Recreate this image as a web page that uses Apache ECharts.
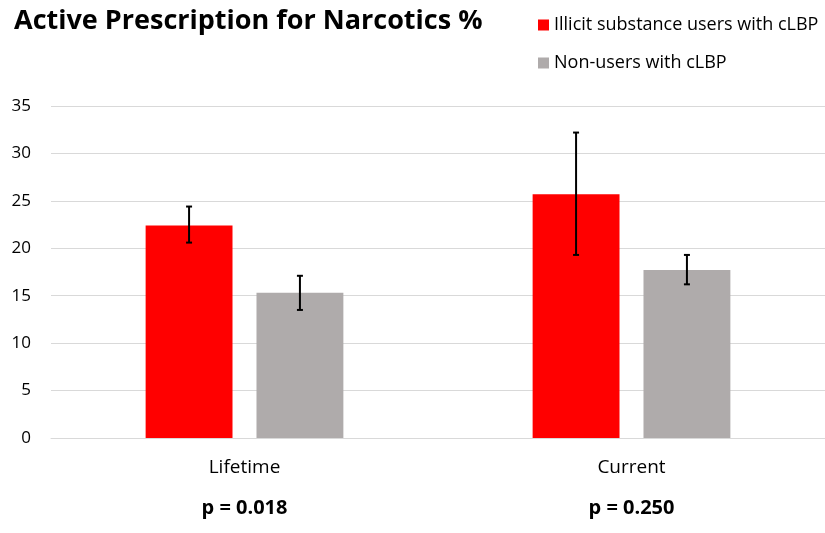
<!DOCTYPE html>
<html><head><meta charset="utf-8">
<script src="https://cdn.jsdelivr.net/npm/echarts@6/dist/echarts.min.js"></script>
<style>html,body{margin:0;padding:0;background:#fff}#c{width:825px;height:533px}</style>
</head><body><div id="c"></div>
<script>
var categories = ['Lifetime', 'Current'];
var pValues = ['p = 0.018', 'p = 0.250'];
var seriesNames = ['Illicit substance users with cLBP', 'Non-users with cLBP'];
var usersValues = [22.4, 25.7];
var usersLow = [20.6, 19.3];
var usersHigh = [24.4, 32.2];
var nonUsersValues = [15.3, 17.7];
var nonUsersLow = [13.5, 16.2];
var nonUsersHigh = [17.1, 19.3];
var yTicks = [0, 5, 10, 15, 20, 25, 30, 35];

var FONT = '"Open Sans", "Noto Sans", sans-serif';
var BW = 0.2245, GAP = 0.276;

function errData(low, high) {
  return categories.map(function (c, i) { return [i, low[i], high[i]]; });
}
function makeErr(sign, low, high) {
  return {
    type: 'custom', silent: true, z: 10,
    renderItem: function (params, api) {
      var band = api.size([1, 0])[0];
      var off = sign * band * BW * (1 + GAP) / 2;
      var lo = api.coord([api.value(0), api.value(1)]);
      var hi = api.coord([api.value(0), api.value(2)]);
      var x = lo[0] + off, cap = 3;
      var st = { stroke: '#000', lineWidth: 2 };
      return { type: 'group', children: [
        { type: 'line', shape: { x1: x, y1: lo[1], x2: x, y2: hi[1] }, style: st },
        { type: 'line', shape: { x1: x - cap, y1: lo[1], x2: x + cap, y2: lo[1] }, style: st },
        { type: 'line', shape: { x1: x - cap, y1: hi[1], x2: x + cap, y2: hi[1] }, style: st }
      ]};
    },
    encode: { x: 0, y: [1, 2] },
    data: errData(low, high)
  };
}

var chart = echarts.init(document.getElementById('c'));
chart.setOption({
  animation: false,
  textStyle: { fontFamily: FONT },
  title: {
    text: 'Active Prescription for Narcotics %', left: 9, top: 3,
    textStyle: { fontFamily: FONT, fontWeight: 'bold', fontSize: 27, color: '#000' }
  },
  legend: {
    orient: 'vertical', left: 533, top: 11, itemGap: 20,
    icon: 'rect', itemWidth: 11, itemHeight: 11,
    data: seriesNames,
    textStyle: { fontFamily: FONT, fontSize: 18, color: '#000' }
  },
  grid: { left: 51, right: 0, top: 106, bottom: 95 },
  xAxis: {
    type: 'category', data: categories,
    axisLine: { lineStyle: { color: '#d9d9d9' } },
    axisTick: { show: false },
    axisLabel: {
      margin: 19,
      formatter: function (v, i) { return '{a|' + v + '}\n{b|' + pValues[i] + '}'; },
      rich: {
        a: { fontFamily: FONT, fontSize: 19, color: '#000', lineHeight: 22 },
        b: { fontFamily: FONT, fontSize: 20, fontWeight: 'bold', color: '#000', lineHeight: 30, padding: [29, 0, 0, 0] }
      }
    }
  },
  yAxis: {
    type: 'value', min: yTicks[0], max: yTicks[yTicks.length - 1], interval: 5,
    axisLine: { show: false }, axisTick: { show: false },
    splitLine: { lineStyle: { color: '#d9d9d9' } },
    axisLabel: { margin: 20, fontFamily: FONT, fontSize: 17, color: '#000' }
  },
  series: [
    { name: seriesNames[0], type: 'bar', data: usersValues, barWidth: (BW * 100) + '%', barGap: (GAP * 100) + '%',
      itemStyle: { color: '#ff0000' } },
    { name: seriesNames[1], type: 'bar', data: nonUsersValues, barWidth: (BW * 100) + '%',
      itemStyle: { color: '#afabab' } },
    makeErr(-1, usersLow, usersHigh),
    makeErr(1, nonUsersLow, nonUsersHigh)
  ]
});
</script></body></html>
